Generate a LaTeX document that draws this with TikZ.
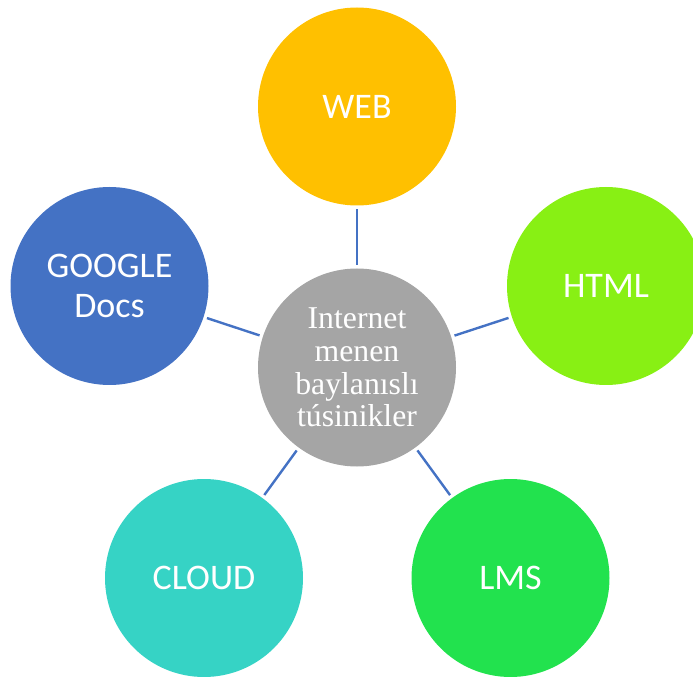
\documentclass[tikz,border=0pt]{standalone}
\usepackage{fontspec}
\setmainfont{Liberation Serif}
\newfontfamily\calib{Carlito}
\definecolor{cweb}{HTML}{FFC000}
\definecolor{chtml}{HTML}{88F014}
\definecolor{cgoogle}{HTML}{4472C4}
\definecolor{ccloud}{HTML}{36D3C5}
\definecolor{clms}{HTML}{22E24E}
\definecolor{ccenter}{HTML}{A5A5A5}
\definecolor{cline}{HTML}{4472C4}
\tikzset{
  bubble/.style={circle, inner sep=0pt, minimum size=148.5pt, text=white, align=center,
    font=\calib\fontsize{27pt}{30pt}\selectfont},
  hub/.style={bubble, fill=ccenter, font=\fontsize{23.8pt}{24.6pt}\selectfont},
  link/.style={draw=cline, line width=1.8pt, shorten <=2.5pt, shorten >=2.5pt}
}
\begin{document}
\begin{tikzpicture}[x=0.75pt,y=-0.75pt]
\useasboundingbox (0,0) rectangle (693,677);
\clip (0,0) rectangle (693,677);
\node[hub] (c) at (357,367.5) {Internet\\menen\\baylanıslı\\túsinikler};
\node[bubble, fill=cweb] (web) at (357,106.5) {WEB};
\node[bubble, fill=chtml] (html) at (606,286) {HTML};
\node[bubble, fill=cgoogle] (google) at (109.5,286) {GOOGLE\\Docs};
\node[bubble, fill=ccloud] (cloud) at (204,578) {CLOUD};
\node[bubble, fill=clms] (lms) at (510.5,578) {LMS};
\draw[link] (c) -- (web);
\draw[link] (c) -- (html);
\draw[link] (c) -- (google);
\draw[link] (c) -- (cloud);
\draw[link] (c) -- (lms);
\end{tikzpicture}
\end{document}
